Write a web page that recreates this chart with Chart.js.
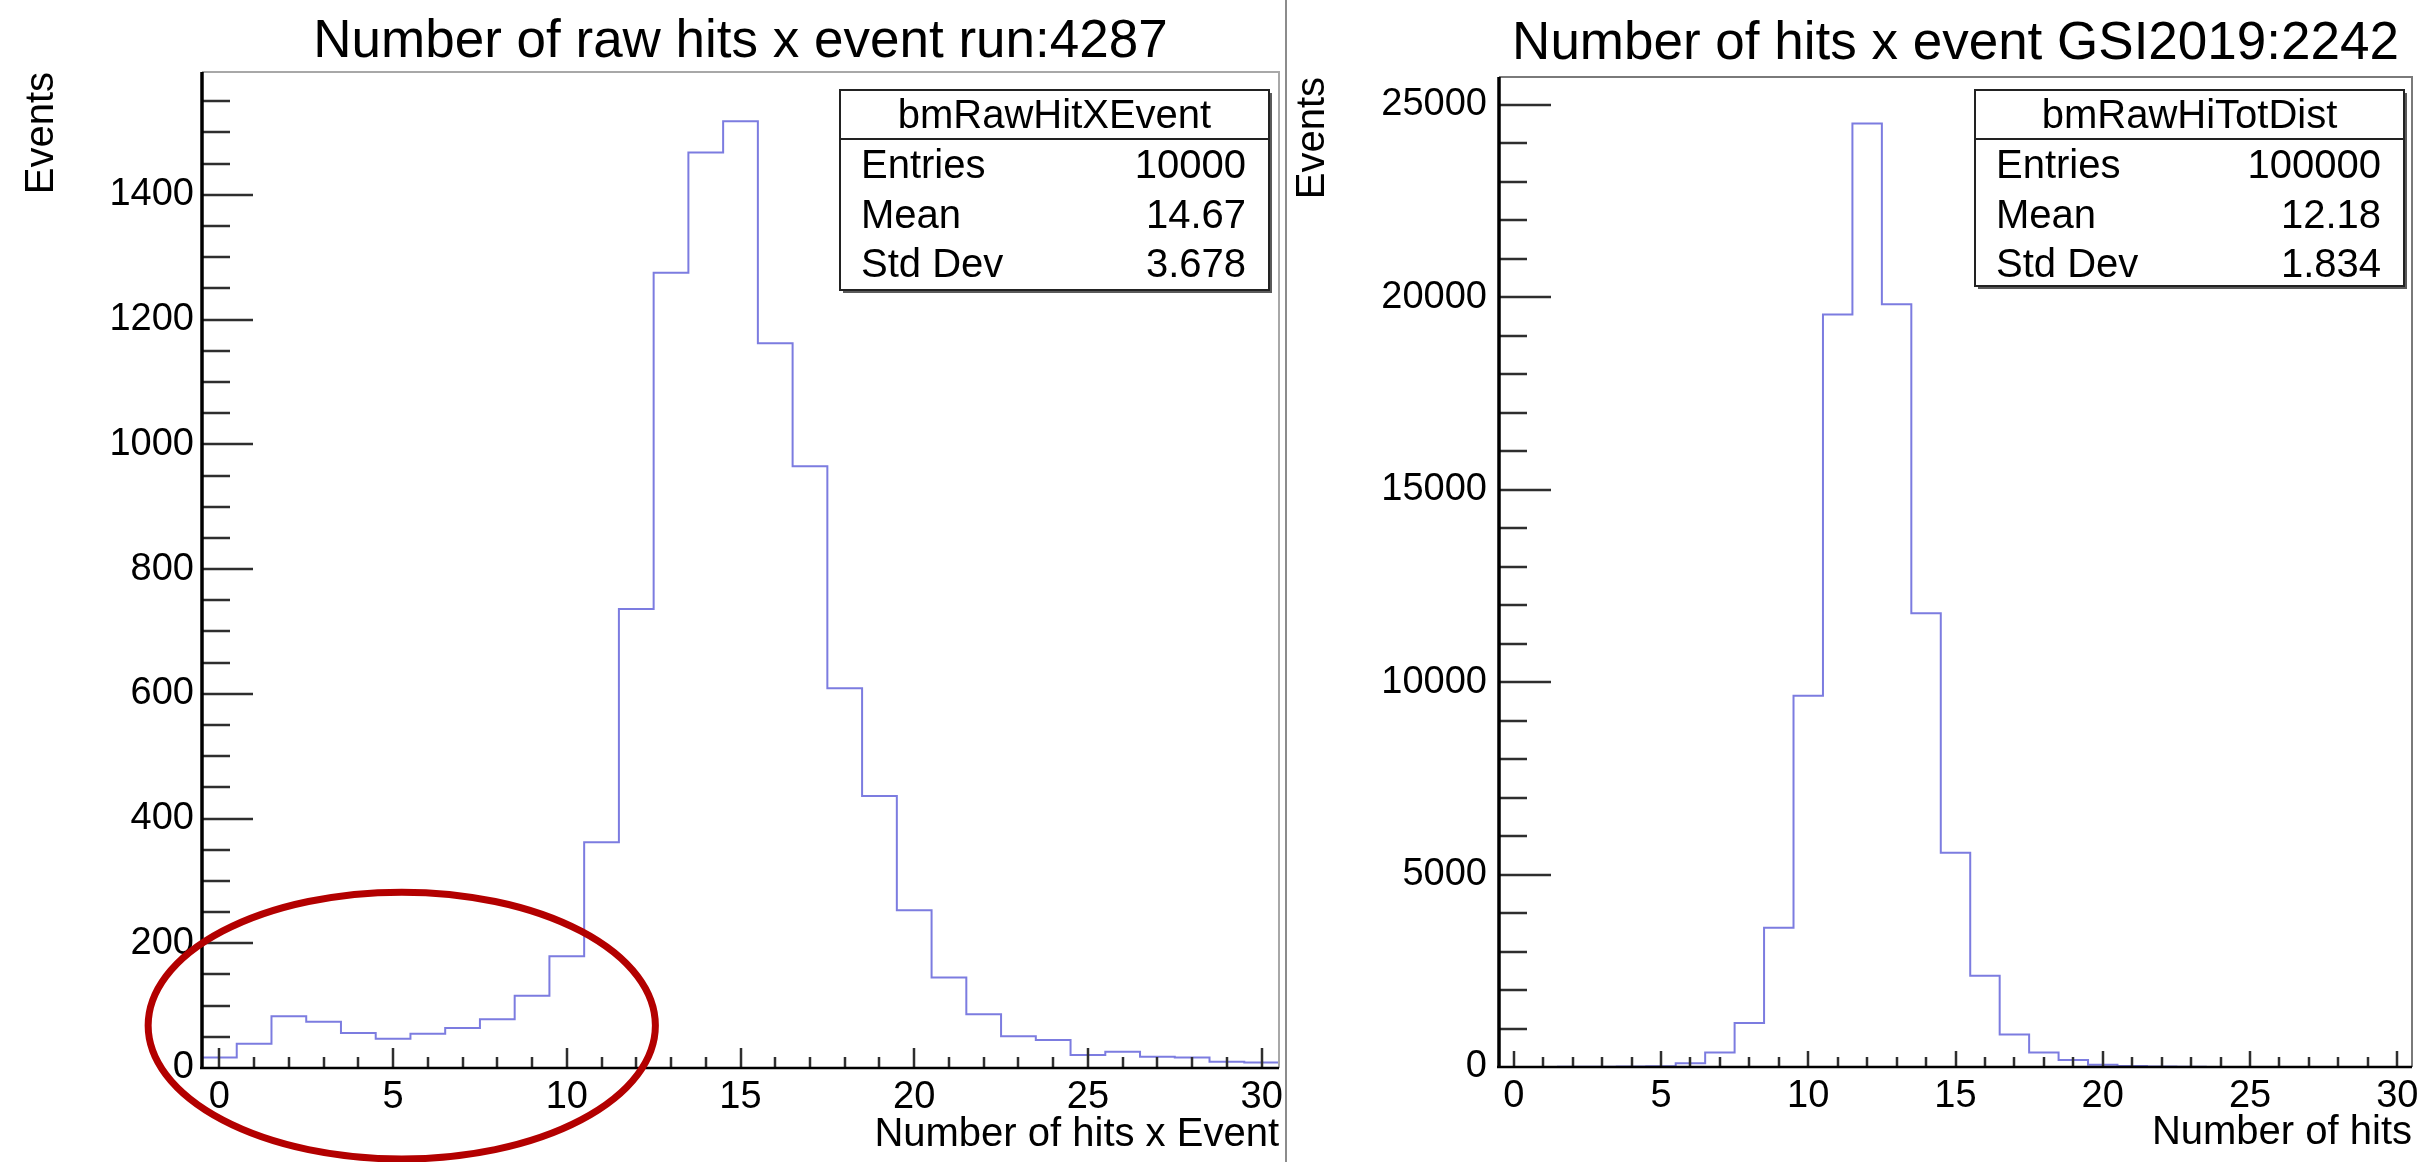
<!DOCTYPE html>
<html>
<head>
<meta charset="utf-8">
<title>Number of hits x event</title>
<script src="https://cdn.jsdelivr.net/npm/chart.js@4.4.1/dist/chart.umd.min.js"></script>
<style>
  html, body { margin: 0; padding: 0; background: #fff; }
  #page { position: relative; width: 2424px; height: 1162px; overflow: hidden; }
  .pane { position: absolute; top: 0; height: 1162px; }
  #left { left: 0; width: 1286px; }
  #right { left: 1288px; width: 1136px; }
  #sep { position: absolute; left: 1285px; top: 0; width: 2px; height: 1162px; background: #8c8c8c; }
</style>
</head>
<body>
<div id="page">
  <div class="pane" id="left"><canvas id="rawHits"></canvas></div>
  <div id="sep"></div>
  <div class="pane" id="right"><canvas id="totHits"></canvas></div>
</div>
<script>
// bin centres (number of hits), bin width 1
const hitBins = [0, 1, 2, 3, 4, 5, 6, 7, 8, 9, 10, 11, 12, 13, 14, 15,
  16, 17, 18, 19, 20, 21, 22, 23, 24, 25, 26, 27, 28, 29, 30];
const binWidth = 1;

// run:4287, bmRawHitXEvent
const rawCounts = [17, 39, 83, 74, 56, 47, 55, 64, 78, 116, 179, 362, 736, 1275, 1468, 1518,
  1162, 965, 609, 436, 253, 145, 86, 51, 45, 21, 26, 18, 17, 10, 9];
// GSI2019:2242, bmRawHiTotDist
const totCounts = [2, 3, 5, 8, 12, 20, 100, 379, 1146, 3620, 9646, 19551, 24517, 19821, 11789, 5566,
  2373, 847, 379, 179, 60, 25, 10, 5, 2, 1, 1, 0, 0, 0, 0];

const xTicks = [0, 5, 10, 15, 20, 25, 30];
const rawYTicks = [0, 200, 400, 600, 800, 1000, 1200, 1400];
const totYTicks = [0, 5000, 10000, 15000, 20000, 25000];

const statLabels = ["Entries", "Mean", "Std Dev"];
const rawStats = ["10000", "14.67", "3.678"];
const totStats = ["100000", "12.18", "1.834"];

const FONT = '"Liberation Sans", Arial, Helvetica, sans-serif';
const LINE = "#7c7ce0";

function histPoints(counts) {
  const pts = hitBins.map((c, i) => ({x: c - binWidth / 2, y: counts[i]}));
  pts.push({x: hitBins[hitBins.length - 1] + binWidth / 2, y: counts[counts.length - 1]});
  return pts;
}

// ROOT style frame: axes, inner ticks, stat box and optional marker
function rootFrame(cfg) {
  return {
    id: "rootFrame",
    afterDraw(chart) {
      const {ctx, chartArea: a, scales: {x, y}} = chart;
      ctx.save();

      ctx.strokeStyle = cfg.frameColor;
      ctx.lineWidth = cfg.frameWidth;
      ctx.beginPath();
      ctx.moveTo(a.left, a.top);
      ctx.lineTo(a.right, a.top);
      ctx.lineTo(a.right, a.bottom);
      ctx.stroke();

      ctx.strokeStyle = "#2e2e2e";
      ctx.lineWidth = 2.5;
      ctx.beginPath();
      for (let v = cfg.yMinor; v <= y.max; v += cfg.yMinor) {
        const py = Math.round(y.getPixelForValue(v));
        const len = v % cfg.yMajor === 0 ? cfg.yMajorLen : cfg.yMinorLen;
        ctx.moveTo(a.left, py);
        ctx.lineTo(a.left + len, py);
      }
      for (let v = 0; v <= x.max; v += 1) {
        const px = Math.round(x.getPixelForValue(v));
        const len = v % 5 === 0 ? cfg.xMajorLen : cfg.xMinorLen;
        ctx.moveTo(px, a.bottom);
        ctx.lineTo(px, a.bottom - len);
      }
      ctx.stroke();

      ctx.strokeStyle = "#000";
      ctx.lineWidth = 3.5;
      ctx.beginPath();
      ctx.moveTo(a.left, a.top);
      ctx.lineTo(a.left, a.bottom);
      ctx.stroke();
      ctx.lineWidth = 2.5;
      ctx.beginPath();
      ctx.moveTo(a.left - 2, a.bottom);
      ctx.lineTo(a.right, a.bottom);
      ctx.stroke();

      // stat box
      const s = cfg.stats;
      const bx = a.right - s.inset - s.w;
      const by = 90;
      ctx.fillStyle = "#fff";
      ctx.fillRect(bx, by, s.w, s.h);
      ctx.fillStyle = "#5a5a5a";
      ctx.fillRect(bx + s.w, by + 3, 3, s.h);
      ctx.fillRect(bx + 3, by + s.h, s.w, 3);
      ctx.strokeStyle = "#222";
      ctx.lineWidth = 2;
      ctx.strokeRect(bx, by, s.w, s.h);
      ctx.beginPath();
      ctx.moveTo(bx, by + 49);
      ctx.lineTo(bx + s.w, by + 49);
      ctx.stroke();
      ctx.fillStyle = "#000";
      ctx.font = "40px " + FONT;
      ctx.textBaseline = "alphabetic";
      ctx.textAlign = "center";
      ctx.fillText(s.name, bx + s.w / 2, by + 38);
      statLabels.forEach((lab, i) => {
        ctx.textAlign = "left";
        ctx.fillText(lab, bx + 21, by + 88 + i * 49.5);
        ctx.textAlign = "right";
        ctx.fillText(s.values[i], bx + s.w - 23, by + 88 + i * 49.5);
      });

      if (cfg.marker) {
        const m = cfg.marker;
        const cx = x.getPixelForValue(m.x);
        const cy = y.getPixelForValue(m.y);
        const rx = Math.abs(x.getPixelForValue(m.x + m.rx) - cx);
        const ry = Math.abs(y.getPixelForValue(m.y + m.ry) - cy);
        ctx.strokeStyle = "#b30000";
        ctx.lineWidth = 7;
        ctx.beginPath();
        ctx.ellipse(cx, cy, rx, ry, 0, 0, 2 * Math.PI);
        ctx.stroke();
      }
      ctx.restore();
    }
  };
}

function makeHist(id, o) {
  return new Chart(document.getElementById(id), {
    type: "line",
    data: {
      datasets: [{
        data: histPoints(o.counts),
        stepped: "before",
        borderColor: LINE,
        borderWidth: 2,
        pointRadius: 0,
        fill: false,
      }],
    },
    options: {
      responsive: true,
      maintainAspectRatio: false,
      animation: false,
      events: [],
      layout: {padding: {left: 0, right: o.padRight, top: 0, bottom: 0}},
      plugins: {
        legend: {display: false},
        tooltip: {enabled: false},
        title: {
          display: true,
          text: o.title,
          fullSize: false,
          color: "#000",
          font: {family: FONT, size: 53, weight: "normal", lineHeight: 1},
          padding: {top: o.titleTop, bottom: o.titleBottom},
        },
      },
      scales: {
        x: {
          type: "linear",
          min: hitBins[0] - binWidth / 2,
          max: hitBins[hitBins.length - 1] + binWidth / 2,
          grid: {display: false, drawTicks: false},
          border: {display: false},
          ticks: {color: "#000", padding: 7, font: {family: FONT, size: 38}, callback: v => String(v)},
          afterBuildTicks: sc => { sc.ticks = xTicks.map(v => ({value: v})); },
          afterFit: sc => { sc.height = o.xHeight; sc.paddingLeft = 0; sc.paddingRight = 0; },
          title: {
            display: true, text: o.xTitle, align: "end", color: "#000",
            font: {family: FONT, size: 40}, padding: {top: 0, bottom: o.xTitlePad},
          },
        },
        y: {
          type: "linear",
          min: 0,
          max: o.yMax,
          grid: {display: false, drawTicks: false},
          border: {display: false},
          ticks: {color: "#000", padding: o.yLabelPad, font: {family: FONT, size: 38}, callback: v => String(v)},
          afterBuildTicks: sc => { sc.ticks = o.yTicks.map(v => ({value: v})); },
          afterFit: sc => { sc.width = o.yWidth; sc.paddingTop = 0; sc.paddingBottom = 0; },
          title: {
            display: true, text: "Events", align: "end", color: "#000",
            font: {family: FONT, size: 40}, padding: {top: o.yTitlePad, bottom: 0},
          },
        },
      },
    },
    plugins: [rootFrame(o.frame)],
  });
}

makeHist("rawHits", {
  counts: rawCounts,
  title: "Number of raw hits x event run:4287",
  xTitle: "Number of hits x Event",
  yMax: 1597,
  yTicks: rawYTicks,
  padRight: 7,
  titleTop: 16, titleBottom: 3,
  xHeight: 94, xTitlePad: 3,
  yWidth: 202, yLabelPad: 8, yTitlePad: 18,
  frame: {
    frameColor: "#a8a8a8", frameWidth: 2,
    yMinor: 50, yMajor: 200, yMajorLen: 51, yMinorLen: 28,
    xMajorLen: 20, xMinorLen: 11,
    stats: {name: "bmRawHitXEvent", values: rawStats, w: 429, h: 200, inset: 10},
    marker: {x: 5.25, y: 68, rx: 7.3, ry: 214},
  },
});

makeHist("totHits", {
  counts: totCounts,
  title: "Number of hits x event GSI2019:2242",
  xTitle: "Number of hits",
  yMax: 25725,
  yTicks: totYTicks,
  padRight: 12,
  titleTop: 18, titleBottom: 6,
  xHeight: 95, xTitlePad: 5,
  yWidth: 211, yLabelPad: 12, yTitlePad: 1,
  frame: {
    frameColor: "#7a7a7a", frameWidth: 2,
    yMinor: 1000, yMajor: 5000, yMajorLen: 52, yMinorLen: 28,
    xMajorLen: 16, xMinorLen: 10,
    stats: {name: "bmRawHiTotDist", values: totStats, w: 429, h: 196, inset: 8},
  },
});
</script>
</body>
</html>
